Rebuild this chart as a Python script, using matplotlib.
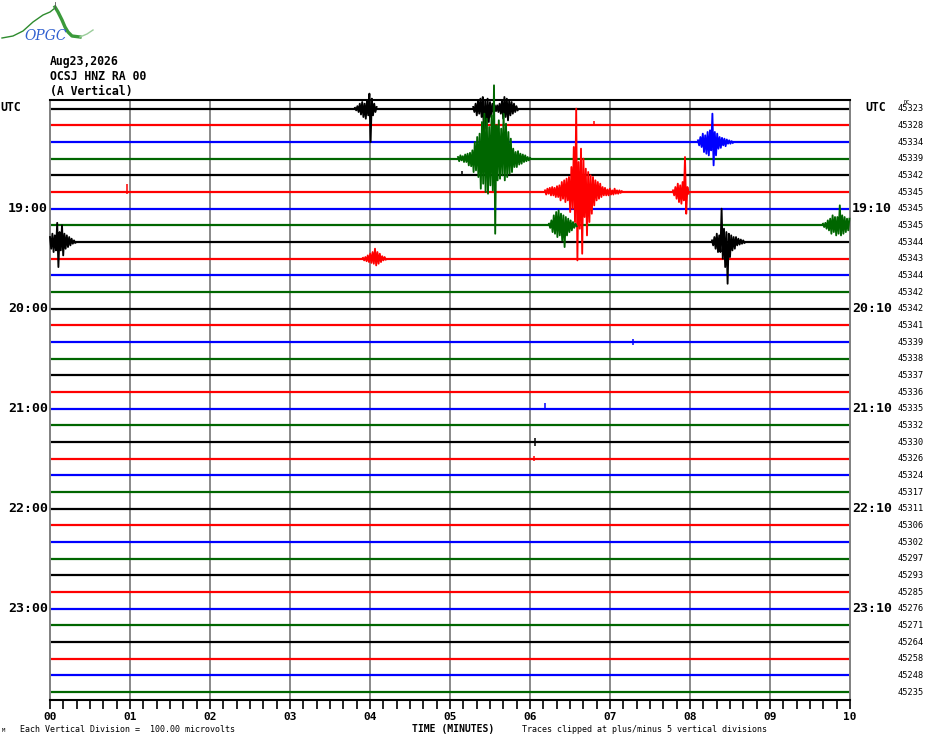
import matplotlib
matplotlib.use("Agg")
import matplotlib.pyplot as plt
import numpy as np
from matplotlib.ticker import MultipleLocator

# ---------------- data ----------------
date_label = "Aug23,2026"
station_label = "OCSJ HNZ RA 00"
component_label = "(A Vertical)"
n_rows = 36
color_cycle = ["#000000", "#ff0000", "#0000ff", "#006600"]
left_labels = {0: "UTC", 6: "19:00", 12: "20:00", 18: "21:00", 24: "22:00", 30: "23:00"}
right_labels = {0: "UTC", 6: "19:10", 12: "20:10", 18: "21:10", 24: "22:10", 30: "23:10"}
dc_values = [45323, 45328, 45334, 45339, 45342, 45345, 45345, 45345, 45344, 45343,
             45344, 45342, 45342, 45341, 45339, 45338, 45337, 45336, 45335, 45332,
             45330, 45326, 45324, 45317, 45311, 45306, 45302, 45297, 45293, 45285,
             45276, 45271, 45264, 45258, 45248, 45235]
minute_values = list(range(11))
minute_labels = ["00", "01", "02", "03", "04", "05", "06", "07", "08", "09", "10"]

# recorded events: trace row, start time (min), sample step (min), amplitudes (vertical divisions)
sample_step = 0.015
event_rows = [0, 0, 3, 5, 7, 5, 2, 8, 7, 8, 9]
event_start = [3.8125, 5.29, 5.10, 6.1875, 6.2375, 7.7875, 8.10, 8.275, 9.6625, 0.0, 3.9125]
event_amp = [
    [0.05, -0.1, 0.15, -0.2, 0.3, -0.35, 0.4, -0.5, 0.3, -0.6, 0.5, -0.4, 0.9, -2.0, 0.6, -0.4, 0.3, -0.2, 0.1],
    [0.1, -0.2, 0.3, -0.4, 0.5, -0.3, 0.6, -0.5, 0.7, -1.6, 0.5, -1.2, 0.6, -0.8, 0.4, -0.5, 0.3,
     -0.2, 0.2, -0.15, 0.2, -0.2, 0.3, -0.3, 0.5,
     -0.6, 0.7, -0.5, 0.6, -0.7, 0.5, -0.4, 0.4, -0.3, 0.3, -0.2, 0.15, -0.1],
    [0.1, -0.15, 0.2, -0.1, 0.15, -0.2, 0.25, -0.2, 0.3,
     -0.4, 0.35, -0.45, 0.5,
     -0.8, 1.0, -0.7, 1.3, -1.1, 1.5,
     -1.8, 2.2, -1.5, 2.7, -2.0, 2.4, -2.1, 1.9, -1.6, 2.6, -1.9,
     4.4, -4.5,
     2.0, -1.3, 2.3, -1.2, 1.8, -1.0, 2.7, -1.3, 2.1, -1.1, 1.6, -0.9, 1.2, -0.8,
     0.6, -0.5, 0.4, -0.5, 0.45, -0.35, 0.3, -0.3, 0.25, -0.2, 0.2, -0.15, 0.1, -0.1, 0.05],
    [0.1, -0.15, 0.2, -0.1, 0.25, -0.2, 0.3, -0.2, 0.25, -0.3, 0.35, -0.3, 0.4,
     -0.5, 0.6, -0.4, 0.7, -0.6, 0.8, -0.5, 0.9,
     -1.2, 1.5, -1.0, 2.7, -1.8, 5.0, -4.1,
     1.8, -2.2, 2.6, -3.7, 2.0, -1.5, 1.4, -2.6, 1.2, -1.8, 1.0, -1.3, 0.9,
     -0.8, 0.7, -0.5, 0.6, -0.4, 0.5, -0.3, 0.3,
     -0.2, 0.25, -0.2, 0.15, -0.2, 0.2, -0.15, 0.1, -0.15, 0.2, -0.1, 0.1, -0.1, 0.1, -0.05, 0.05],
    [0.1, -0.15, 0.3, -0.4, 0.6, -0.5, 0.8, -0.7, 0.9, -0.6, 0.7, -0.9, 0.6, -1.3, 0.5, -0.6, 0.4,
     -0.4, 0.3, -0.3, 0.2, -0.15, 0.1, -0.05],
    [0.1, -0.2, 0.3, -0.4, 0.5, -0.6, 0.4, -0.7, 0.6, -0.5, 2.1, -1.3, 0.3, -0.1],
    [0.1, -0.2, 0.3, -0.3, 0.5, -0.6, 0.4, -0.7, 0.6, -0.8, 0.7, -0.5, 1.7, -1.4, 0.6, -0.8, 0.5,
     -0.4, 0.3, -0.35, 0.25, -0.2, 0.2, -0.25, 0.15, -0.1, 0.1, -0.1, 0.05, -0.05],
    [0.1, -0.2, 0.3, -0.4, 0.5, -0.6, 0.4, -0.6, 2.0, -1.0, 0.8, -1.5, 0.6, -2.5, 0.5, -0.9, 0.4,
     -0.5, 0.3, -0.4, 0.3, -0.2, 0.2, -0.15, 0.15, -0.1, 0.1, -0.05],
    [0.1, -0.1, 0.15, -0.2, 0.3, -0.3, 0.4, -0.5, 0.6, -0.4, 0.5, -0.6, 0.5, -0.5, 1.2, -0.6, 0.6,
     -0.5, 0.5, -0.4, 0.4, -0.3, 0.4],
    [0.3, -0.4, 0.5, -0.6, 0.4, -0.5, 1.15, -1.5, 0.6, -0.5, 1.0, -0.8, 0.5, -0.4, 0.4, -0.3, 0.3,
     -0.2, 0.2, -0.1, 0.1, -0.05],
    [0.05, -0.1, 0.1, -0.15, 0.2, -0.2, 0.3, -0.25, 0.4, -0.3, 0.6, -0.4, 0.4, -0.3, 0.3, -0.2,
     0.15, -0.1, 0.1, -0.05],
]

# small isolated blips (row, time, up, down)
blip_rows = [5, 4, 14, 18, 20, 1, 21]
blip_t = [0.96, 5.15, 7.29, 6.19, 6.06, 6.80, 6.05]
blip_up = [0.5, 0.25, 0.2, 0.35, 0.25, 0.25, 0.15]
blip_dn = [0.1, 0.05, 0.2, 0.1, 0.25, 0.05, 0.15]

# ---------------- figure ----------------
W, H = 930, 744
fig = plt.figure(figsize=(W / 100, H / 100), dpi=100)
fig.patch.set_facecolor("white")
ax = fig.add_axes([50 / W, (H - 700) / H, 800 / W, 600 / H])
ax.set_xlim(0, 10)
ax.set_ylim(-(n_rows - 1) - 0.47, 0.52)

MONO = "DejaVu Sans Mono"
GRAY = "#808080"

for m in minute_values[1:-1]:
    ax.axvline(m, color=GRAY, lw=1.3, zorder=1)

for i in range(n_rows):
    c = color_cycle[i % 4]
    ax.plot([0, 10], [-i, -i], color=c, lw=1.6, solid_capstyle="butt", zorder=2)

for r, t0, amps in zip(event_rows, event_start, event_amp):
    c = color_cycle[r % 4]
    a = np.clip(np.array(amps), -5, 5)
    t = t0 + sample_step * np.arange(len(a))
    ax.plot(t, -r + a, color=c, lw=1.35, zorder=3, clip_on=False)

for r, t, u, d in zip(blip_rows, blip_t, blip_up, blip_dn):
    c = color_cycle[r % 4]
    ax.vlines(t, -r - d, -r + u, color=c, lw=1.1, zorder=3)

for side in ["left", "right"]:
    ax.spines[side].set_color(GRAY)
    ax.spines[side].set_linewidth(1.4)
for side in ["top", "bottom"]:
    ax.spines[side].set_color("black")
    ax.spines[side].set_linewidth(1.5)

ax.set_yticks([])
ax.set_xticks(minute_values)
ax.set_xticklabels(minute_labels, fontfamily=MONO, fontweight="bold", fontsize=8)
ax.xaxis.set_minor_locator(MultipleLocator(1 / 6))
ax.tick_params(axis="x", which="major", direction="out", length=6.5, width=1.2, pad=2.5)
ax.tick_params(axis="x", which="minor", direction="out", length=6.5, width=1.2)


def fx(px):
    return px / W


def fy(py):
    return 1 - py / H


def row_py(i):
    return 108.7 + 16.67 * i


# header
for py, txt in [(62, date_label), (76, station_label), (91, component_label)]:
    fig.text(fx(50), fy(py), txt, fontfamily=MONO, fontweight="bold", fontsize=8.3, va="center")

# row labels
for i, lab in left_labels.items():
    if lab == "UTC":
        fig.text(fx(0), fy(row_py(i) - 1), lab, fontfamily=MONO, fontweight="bold", fontsize=8.3, va="center", ha="left")
    else:
        fig.text(fx(48), fy(row_py(i)), lab, fontfamily=MONO, fontweight="bold", fontsize=9.5, va="center", ha="right")
for i, lab in right_labels.items():
    if lab == "UTC":
        fig.text(fx(865), fy(row_py(i) - 1), lab, fontfamily=MONO, fontweight="bold", fontsize=8.3, va="center", ha="left")
    else:
        fig.text(fx(852), fy(row_py(i)), lab, fontfamily=MONO, fontweight="bold", fontsize=9.5, va="center", ha="left")
for i, v in enumerate(dc_values):
    fig.text(fx(898), fy(row_py(i)), str(v), fontfamily=MONO, fontsize=6.2, va="center", ha="left")
fig.text(fx(904), fy(102), "DC", fontfamily=MONO, fontsize=4, va="center", ha="left")

# footer
fig.text(fx(453), fy(728.5), "TIME (MINUTES)", fontfamily=MONO, fontweight="bold", fontsize=7, va="center", ha="center")
fig.text(fx(20), fy(730), "Each Vertical Division =  100.00 microvolts", fontfamily=MONO, fontsize=6, va="center", ha="left")
fig.text(fx(522), fy(730), "Traces clipped at plus/minus 5 vertical divisions", fontfamily=MONO, fontsize=6, va="center", ha="left")
fig.text(fx(2), fy(731), "M", fontfamily=MONO, fontsize=4, va="center", ha="left")

# logo (decorative)
logo_x = [2, 13, 23, 33, 43, 50, 55]
logo_y = [38, 36, 31, 22, 15, 12, 8]
fig.add_artist(plt.Line2D([fx(v) for v in logo_x], [fy(v) for v in logo_y], color="#2e8b2e", lw=1.0))
logo2_x = [55, 58, 62, 65, 68, 72, 80]
logo2_y = [7, 12, 20, 27, 32, 36, 37]
fig.add_artist(plt.Line2D([fx(v) for v in logo2_x], [fy(v) for v in logo2_y], color="#3a9a3a", lw=2.4))
logo3_x = [80, 87, 93]
logo3_y = [37, 34, 30]
fig.add_artist(plt.Line2D([fx(v) for v in logo3_x], [fy(v) for v in logo3_y], color="#9acd9a", lw=1.0))
fig.add_artist(plt.Line2D([fx(55), fx(55)], [fy(2), fy(9)], color="#555555", lw=0.6))
fig.text(fx(46), fy(36), "OPGC", fontfamily="DejaVu Serif", fontstyle="italic", fontsize=10,
         color="#3060d0", va="center", ha="center")

fig.savefig("out.png", dpi=100, facecolor="white")
